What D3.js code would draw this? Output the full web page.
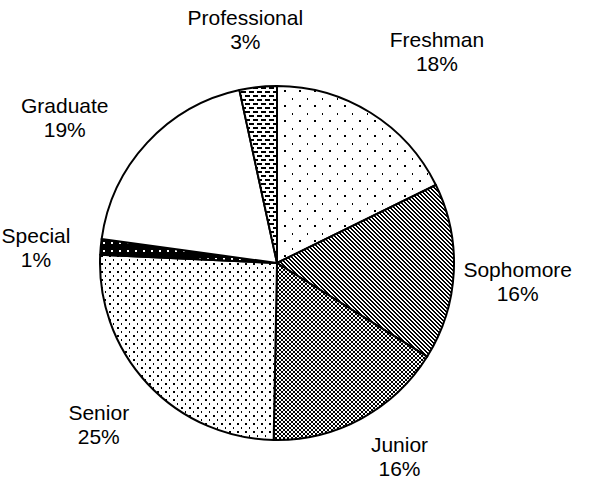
<!DOCTYPE html>
<html>
<head>
<meta charset="utf-8">
<script src="https://cdn.jsdelivr.net/npm/d3@7"></script>
<style>
  html, body { margin: 0; padding: 0; background: #fff; }
  svg { display: block; }
  text { font-family: "Liberation Sans", Arial, sans-serif; font-size: 21px; fill: #000; }
</style>
</head>
<body>
<svg id="chart" width="596" height="485"></svg>
<script>
// ---- data ----
const categories = ["Freshman", "Sophomore", "Junior", "Senior", "Special", "Graduate", "Professional"];
const values = [17.7, 16.1, 16.4, 25.4, 1.4, 19.4, 3.4];
const patterns = ["freshman", "sophomore", "junior", "senior", "special", "graduate", "professional"];

// ---- layout ----
const cx = 277, cy = 263, R = 177;
const labelR = 240;
// label nudges [dx, dy] relative to the mid-angle point at labelR
const labelNudge = [[33, -7], [1, 7], [8, -17], [-3, -2], [-2, 7], [-36, 18], [-6, 6]];

const svg = d3.select("#chart");
const defs = svg.append("defs");

function pat(id, w, h, bg, draw) {
  const p = defs.append("pattern").attr("id", id)
    .attr("patternUnits", "userSpaceOnUse").attr("width", w).attr("height", h);
  p.append("rect").attr("width", w).attr("height", h).attr("fill", bg);
  draw(p);
}
function px(p, x, y, w, h, c) {
  p.append("rect").attr("x", x).attr("y", y).attr("width", w).attr("height", h)
    .attr("fill", c || "#000").attr("shape-rendering", "crispEdges");
}
pat("freshman", 15, 15, "#fff", p => {
  px(p, 7, 7, 2, 2);
  px(p, 0, 0, 1, 2);
});
pat("sophomore", 4, 4, "#fff", p => {
  px(p, 0, 0, 2, 1);
  px(p, 1, 1, 2, 1);
  px(p, 2, 2, 2, 1);
  px(p, 3, 3, 1, 1);
  px(p, 0, 3, 1, 1);
});
pat("junior", 4, 4, "#fff", p => {
  px(p, 0, 0, 2, 2);
  px(p, 2, 2, 2, 2);
});
pat("senior", 8, 8, "#fff", p => {
  px(p, 0, 0, 2, 2);
  px(p, 4, 4, 1, 2);
});
pat("special", 8, 8, "#000", p => {
  px(p, 2, 3, 2, 2, "#fff");
});
pat("graduate", 4, 4, "#fff", p => {});
pat("professional", 8, 8, "#fff", p => {
  px(p, 0, 0, 5, 2);
  px(p, 4, 4, 4, 2);
  px(p, 0, 4, 1, 2);
});

const data = categories.map((c, i) => ({ cat: c, value: values[i], pat: patterns[i], i }));
const total = d3.sum(values);
const pie = d3.pie().value(d => d.value).sort(null);
const arcs = pie(data);
const arc = d3.arc().innerRadius(0).outerRadius(R);
const fmt = v => Math.round(v / total * 100) + "%";

const g = svg.append("g").attr("transform", `translate(${cx},${cy})`);
g.selectAll("path.slice").data(arcs).join("path")
  .attr("class", "slice")
  .attr("d", arc)
  .attr("fill", d => `url(#${d.data.pat})`)
  .attr("stroke", "#000")
  .attr("stroke-width", 2)
  .attr("stroke-linejoin", "round");

const lab = g.selectAll("g.lab").data(arcs).join("g").attr("class", "lab")
  .attr("transform", d => {
    const a = (d.startAngle + d.endAngle) / 2;
    const n = labelNudge[d.data.i];
    return `translate(${labelR * Math.sin(a) + n[0]},${-labelR * Math.cos(a) + n[1]})`;
  });
lab.append("text").attr("text-anchor", "middle").attr("y", -5).text(d => d.data.cat);
lab.append("text").attr("text-anchor", "middle").attr("y", 19).text(d => fmt(d.data.value));
</script>
</body>
</html>
